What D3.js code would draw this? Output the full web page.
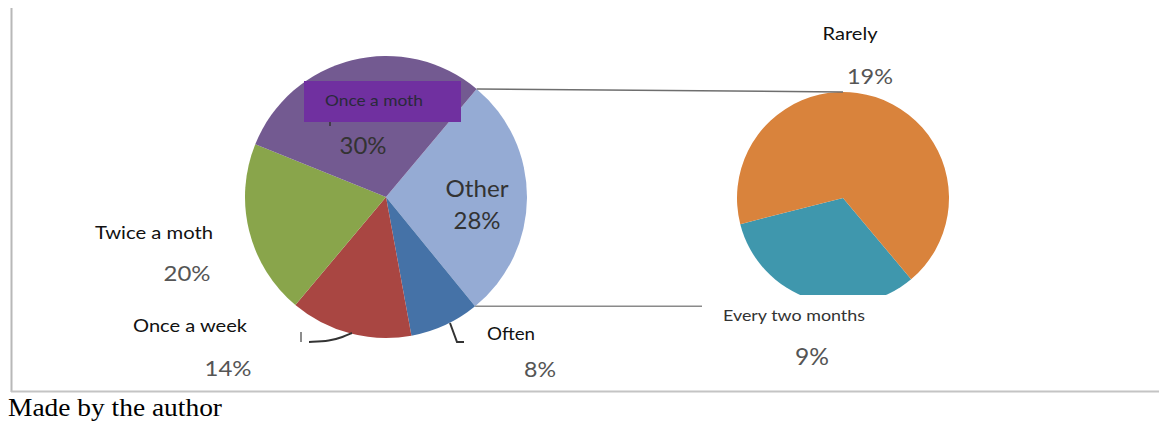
<!DOCTYPE html>
<html>
<head>
<meta charset="utf-8">
<script src="https://cdn.jsdelivr.net/npm/d3@7"></script>
<style>
  body { margin: 0; background: #fff; }
  svg text { font-family: Lato, "Noto Sans", sans-serif; }
</style>
</head>
<body>
<div id="chart"></div>
<script>
// main pie, read clockwise from about 40 degrees
const mainLabels = ["Other", "Often", "Once a week", "Twice a moth", "Once a moth"];
const mainValues = [28, 8, 14, 20, 30];
const mainColors = ["#95abd4", "#4572a7", "#a94642", "#89a54b", "#735a91"];

// secondary pie (breakdown of "Other")
const subLabels = ["Every two months", "Rarely"];
const subValues = [9, 19];
const subColors = ["#3f97ad", "#d9833c"];

const W = 1159, H = 423;
const svg = d3.select("#chart").append("svg")
    .attr("width", W)
    .attr("height", H);

// frame
svg.append("line").attr("x1", 11.5).attr("x2", 11.5).attr("y1", 8).attr("y2", 392)
    .attr("stroke", "#b8b8b8").attr("stroke-width", 2);
svg.append("line").attr("x1", 11).attr("x2", 1159).attr("y1", 391.5).attr("y2", 391.5)
    .attr("stroke", "#c4c4c4").attr("stroke-width", 2);

const deg = Math.PI / 180;

// main pie
const mainPie = d3.pie().sort(null).startAngle(40 * deg).endAngle(400 * deg)(mainValues);
const mainArc = d3.arc().innerRadius(0).outerRadius(141);
const gMain = svg.append("g").attr("transform", "translate(386,197)");
gMain.selectAll("path").data(mainPie).enter().append("path")
    .attr("d", mainArc)
    .attr("fill", (d, i) => mainColors[i]);

// secondary pie, bottom clipped
svg.append("clipPath").attr("id", "subclip")
  .append("rect").attr("x", 700).attr("y", 80).attr("width", 300).attr("height", 215);
const subPie = d3.pie().sort(null).startAngle(140 * deg).endAngle(500 * deg)(subValues);
const subArc = d3.arc().innerRadius(0).outerRadius(106);
const gSub = svg.append("g").attr("clip-path", "url(#subclip)")
  .append("g").attr("transform", "translate(843,198)");
gSub.selectAll("path").data(subPie).enter().append("path")
    .attr("d", subArc)
    .attr("fill", (d, i) => subColors[i]);

// connector lines between the pies
const otherSlice = mainPie[0];
const p1 = [386 + 141 * Math.sin(otherSlice.startAngle), 197 - 141 * Math.cos(otherSlice.startAngle)];
const p2 = [386 + 141 * Math.sin(otherSlice.endAngle), 197 - 141 * Math.cos(otherSlice.endAngle)];
svg.append("line").attr("x1", p1[0]).attr("y1", p1[1]).attr("x2", 843).attr("y2", 92)
    .attr("stroke", "#6e6e6e").attr("stroke-width", 1.5);
svg.append("line").attr("x1", p2[0]).attr("y1", p2[1]).attr("x2", 702).attr("y2", p2[1])
    .attr("stroke", "#8a8a8a").attr("stroke-width", 1.5);

// leader lines
const leader = d3.line().curve(d3.curveBasis);
svg.append("path").attr("d", leader([[309, 342], [330, 341], [343, 337], [352, 333]]))
    .attr("fill", "none").attr("stroke", "#333").attr("stroke-width", 2);
svg.append("line").attr("x1", 301).attr("x2", 301).attr("y1", 332).attr("y2", 342)
    .attr("stroke", "#666").attr("stroke-width", 1.5);
svg.append("path").attr("d", d3.line()([[450, 323], [457, 342], [464, 342]]))
    .attr("fill", "none").attr("stroke", "#333").attr("stroke-width", 2);
svg.append("line").attr("x1", 330).attr("x2", 330).attr("y1", 120).attr("y2", 126)
    .attr("stroke", "#333").attr("stroke-width", 1.5);

// "Once a moth" label box
svg.append("rect").attr("x", 304).attr("y", 81).attr("width", 157).attr("height", 41)
    .attr("fill", "#7030a0");

// text labels (w = measured width in the reference)
const labels = [
  { t: "Once a moth", x: 374, y: 100, s: 15, w: 98, c: "#2a2a3a" },
  { t: "30%", x: 363, y: 145, s: 23, w: 47, c: "#333" },
  { t: "Other", x: 477, y: 187, s: 24, w: 63, c: "#333" },
  { t: "28%", x: 477, y: 219, s: 24, w: 47, c: "#333" },
  { t: "Twice a moth", x: 154, y: 232, s: 18, w: 118, c: "#111" },
  { t: "20%", x: 187, y: 272, s: 22, w: 47, c: "#555" },
  { t: "Once a week", x: 190, y: 325, s: 18, w: 114, c: "#111" },
  { t: "14%", x: 228, y: 367, s: 22, w: 47, c: "#555" },
  { t: "Often", x: 511, y: 333, s: 18, w: 48, c: "#111" },
  { t: "8%", x: 540, y: 368, s: 22, w: 32, c: "#555" },
  { t: "Rarely", x: 850, y: 33, s: 18, w: 55, c: "#111" },
  { t: "19%", x: 870, y: 75, s: 22, w: 46, c: "#555" },
  { t: "Every two months", x: 794, y: 314, s: 16, w: 142, c: "#333" },
  { t: "9%", x: 812, y: 356, s: 23, w: 34, c: "#555" }
];
svg.selectAll("text.lbl").data(labels).enter().append("text")
    .attr("class", "lbl")
    .attr("x", d => d.x)
    .attr("y", d => d.y)
    .attr("text-anchor", "middle")
    .attr("dominant-baseline", "central")
    .attr("textLength", d => d.w)
    .attr("lengthAdjust", "spacingAndGlyphs")
    .style("font-size", d => d.s + "px")
    .attr("fill", d => d.c)
    .text(d => d.t);

// caption
svg.append("text")
    .attr("x", 8)
    .attr("y", 416)
    .attr("textLength", 214)
    .attr("lengthAdjust", "spacingAndGlyphs")
    .style("font-family", "'Liberation Serif', 'Times New Roman', serif")
    .style("font-size", "25px")
    .attr("fill", "#000")
    .text("Made by the author");
</script>
</body>
</html>
